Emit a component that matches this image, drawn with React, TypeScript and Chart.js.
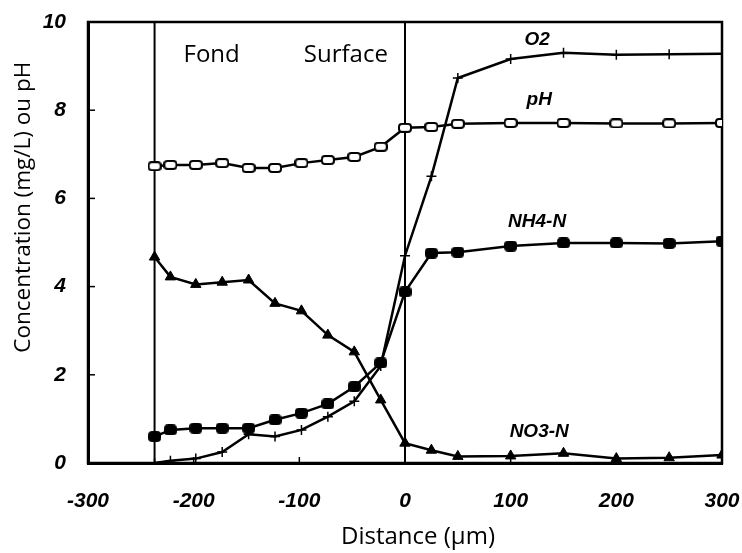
import { useEffect, useRef } from "react";
import { Chart, registerables } from "chart.js";
Chart.register(...registerables);

// Distance (µm)
const distance = [-237, -222, -198, -173, -148, -123, -98, -73, -48, -23, 0, 25, 50, 100, 150, 200, 250, 300];
const pH = [6.73, 6.76, 6.76, 6.8, 6.69, 6.69, 6.8, 6.87, 6.94, 7.17, 7.6, 7.62, 7.69, 7.71, 7.71, 7.7, 7.7, 7.71];
const O2 = [0, 0.05, 0.1, 0.25, 0.65, 0.6, 0.75, 1.05, 1.4, 2.2, 4.7, 6.5, 8.73, 9.16, 9.3, 9.26, 9.27, 9.28];
const NH4N = [0.6, 0.75, 0.79, 0.79, 0.79, 0.98, 1.13, 1.34, 1.73, 2.27, 3.88, 4.76, 4.78, 4.92, 4.99, 4.99, 4.98, 5.03];
const NO3N = [4.67, 4.22, 4.05, 4.1, 4.15, 3.62, 3.45, 2.9, 2.52, 1.43, 0.45, 0.29, 0.15, 0.16, 0.22, 0.1, 0.12, 0.18];

const xTicks = [-300, -200, -100, 0, 100, 200, 300];
const yTicks = [0, 2, 4, 6, 8, 10];

// zone boundaries (µm)
const boundaries = [-237, 0];
const zoneLabels = ["Fond", "Surface"];
const zoneLabelX = [-183, -56];
const zoneLabelY = [9.25, 9.25];

// series labels (anchored in data units)
const seriesNames = ["O2", "pH", "NH4-N", "NO3-N"];
const seriesLabelX = [125, 127, 125, 127];
const seriesLabelY = [9.6, 8.23, 5.46, 0.7];

const xTitle = "Distance (µm)";
const yTitle = "Concentration (mg/L) ou pH";

function makeBox(w: number, h: number, fill: string, lw: number) {
  const c = document.createElement("canvas");
  c.width = w;
  c.height = h;
  const ctx = c.getContext("2d")!;
  ctx.beginPath();
  const anyCtx = ctx as any;
  if (anyCtx.roundRect) anyCtx.roundRect(lw / 2, lw / 2, w - lw, h - lw, 3);
  else ctx.rect(lw / 2, lw / 2, w - lw, h - lw);
  ctx.fillStyle = fill;
  ctx.fill();
  ctx.lineWidth = lw;
  ctx.strokeStyle = "#000";
  ctx.stroke();
  return c;
}

const tickFont = { family: '"Liberation Sans", Arial, sans-serif', size: 21, weight: "bold" as const, style: "italic" as const };

export default function App() {
  const ref = useRef<HTMLCanvasElement>(null);
  useEffect(() => {
    if (!ref.current) return;
    const openBox = makeBox(14, 10, "#fff", 2);
    const fullBox = makeBox(13, 11, "#000", 1);
    const toPts = (arr: number[]) => arr.map((v, i) => ({ x: distance[i], y: v }));

    const decor = {
      id: "decor",
      beforeDatasetsDraw(chart: any) {
        const { ctx, chartArea: a, scales } = chart;
        const xs = scales.x, ys = scales.y;
        ctx.save();
        ctx.strokeStyle = "#000";
        ctx.lineWidth = 2.5;
        ctx.strokeRect(a.left, a.top, a.right - a.left, a.bottom - a.top);
        ctx.lineWidth = 2;
        boundaries.forEach((b) => {
          const px = xs.getPixelForValue(b);
          ctx.beginPath();
          ctx.moveTo(px, a.top);
          ctx.lineTo(px, a.bottom);
          ctx.stroke();
        });
        ctx.lineWidth = 1.5;
        yTicks.forEach((t) => {
          const py = ys.getPixelForValue(t);
          ctx.beginPath();
          ctx.moveTo(a.left, py);
          ctx.lineTo(a.left + 7, py);
          ctx.stroke();
        });
        xTicks.forEach((t) => {
          const px = xs.getPixelForValue(t);
          ctx.beginPath();
          ctx.moveTo(px, a.bottom);
          ctx.lineTo(px, a.bottom - 6);
          ctx.stroke();
        });
        ctx.restore();
      },
      afterDraw(chart: any) {
        const { ctx, chartArea: a, scales } = chart;
        const xs = scales.x, ys = scales.y;
        ctx.save();
        ctx.fillStyle = "#000";
        ctx.textAlign = "center";
        ctx.textBaseline = "middle";
        ctx.font = '24px "Open Sans", "Noto Sans", sans-serif';
        zoneLabels.forEach((t, i) => {
          ctx.fillText(t, xs.getPixelForValue(zoneLabelX[i]), ys.getPixelForValue(zoneLabelY[i]));
        });
        ctx.font = 'italic bold 19px "Liberation Sans", Arial, sans-serif';
        seriesNames.forEach((t, i) => {
          ctx.fillText(t, xs.getPixelForValue(seriesLabelX[i]), ys.getPixelForValue(seriesLabelY[i]));
        });
        ctx.font = '24px "Open Sans", "Noto Sans", sans-serif';
        ctx.fillText(xTitle, (a.left + a.right) / 2 + 13, a.bottom + 74);
        ctx.font = '22.5px "Open Sans", "Noto Sans", sans-serif';
        ctx.translate(24, a.top + (a.bottom - a.top) * 0.42);
        ctx.rotate(-Math.PI / 2);
        ctx.fillText(yTitle, 0, 0);
        ctx.restore();
      },
    };

    const base = { borderColor: "#000", borderWidth: 2.5, pointBorderColor: "#000", tension: 0, showLine: true };
    const chart = new Chart(ref.current, {
      type: "scatter",
      data: {
        datasets: [
          { ...base, label: "O2", data: toPts(O2), pointStyle: "cross", pointRadius: 5, pointBorderWidth: 1.5, pointBackgroundColor: "#000" },
          { ...base, label: "pH", data: toPts(pH), pointStyle: openBox as any, pointRadius: 6 },
          { ...base, label: "NH4-N", data: toPts(NH4N), pointStyle: fullBox as any, pointRadius: 6 },
          { ...base, label: "NO3-N", data: toPts(NO3N), pointStyle: "triangle", pointRadius: 6, pointBackgroundColor: "#000", pointBorderWidth: 1 },
        ],
      },
      options: {
        animation: false,
        responsive: false,
        events: [],
        layout: { padding: { top: 22, right: 20, left: 0, bottom: 0 } },
        plugins: { legend: { display: false }, tooltip: { enabled: false } },
        scales: {
          x: {
            type: "linear",
            min: -300,
            max: 300,
            afterBuildTicks: (s: any) => { s.ticks = xTicks.map((v) => ({ value: v })); },
            ticks: { color: "#000", font: tickFont, padding: 18, maxRotation: 0, autoSkip: false },
            grid: { display: false },
            border: { display: true, color: "#000", width: 3 },
            afterFit: (s: any) => { s.height = 90; s.paddingLeft = 0; s.paddingRight = 0; },
          },
          y: {
            type: "linear",
            min: 0,
            max: 10,
            afterBuildTicks: (s: any) => { s.ticks = yTicks.map((v) => ({ value: v })); },
            ticks: { color: "#000", font: tickFont, padding: 14 },
            grid: { display: false },
            border: { display: true, color: "#000", width: 3 },
            afterFit: (s: any) => { s.width = 88; s.paddingTop = 0; s.paddingBottom = 0; },
          },
        },
      },
      plugins: [decor],
    });
    return () => chart.destroy();
  }, []);
  return (
    <div style={{ position: "fixed", left: 0, top: 0, width: 742, height: 553, background: "#fff" }}>
      <canvas ref={ref} width={742} height={553} />
    </div>
  );
}
